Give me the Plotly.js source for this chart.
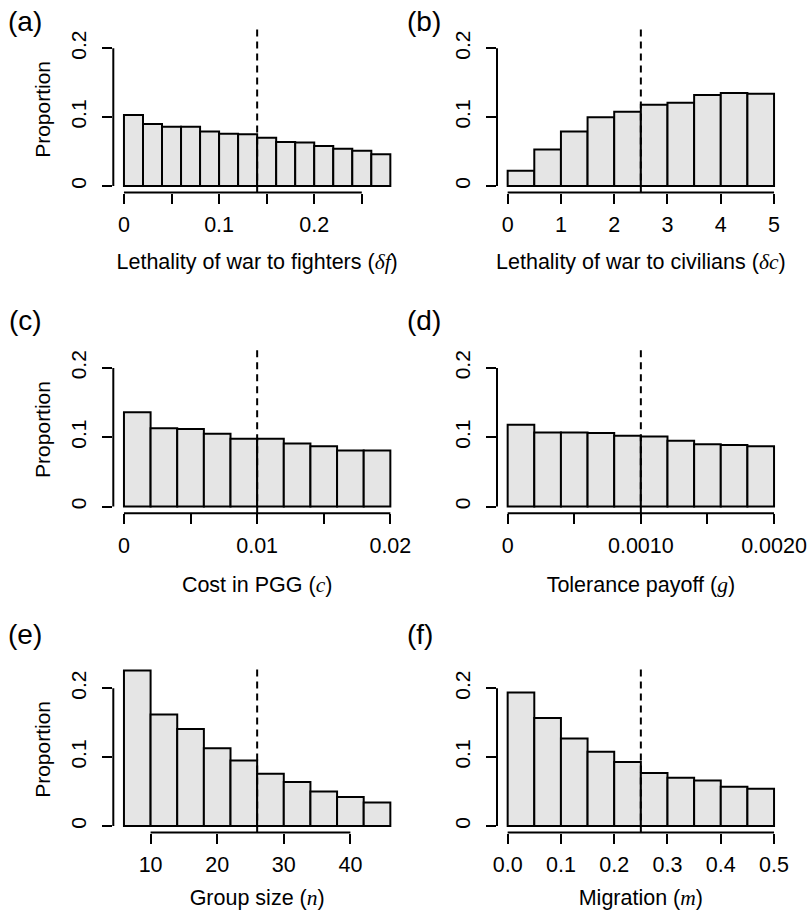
<!DOCTYPE html>
<html><head><meta charset="utf-8">
<script src="https://cdn.plot.ly/plotly-3.0.1.min.js"></script>
<style>body{margin:0;padding:0;background:#fff}#chart{width:812px;height:919px}</style>
</head><body><div id="chart"></div>
<script>
// ---- data ----
const panelLabels = ["(a)", "(b)", "(c)", "(d)", "(e)", "(f)"];
const xTitles = [
  "Lethality of war to fighters (<span style=\"font-family:'Liberation Serif'\"><i>δf</i></span>)",
  "Lethality of war to civilians (<span style=\"font-family:'Liberation Serif'\"><i>δc</i></span>)",
  "Cost in PGG (<span style=\"font-family:'Liberation Serif'\"><i>c</i></span>)",
  "Tolerance payoff (<span style=\"font-family:'Liberation Serif'\"><i>g</i></span>)",
  "Group size (<span style=\"font-family:'Liberation Serif'\"><i>n</i></span>)",
  "Migration (<span style=\"font-family:'Liberation Serif'\"><i>m</i></span>)"
];
const binStartA = 0,    binWidthA = 0.02;
const binStartB = 0,    binWidthB = 0.5;
const binStartC = 0,    binWidthC = 0.002;
const binStartD = 0,    binWidthD = 0.0002;
const binStartE = 6,    binWidthE = 4;
const binStartF = 0,    binWidthF = 0.05;

const propA = [0.103, 0.090, 0.086, 0.086, 0.079, 0.076, 0.075, 0.070, 0.064, 0.063, 0.058, 0.054, 0.051, 0.046];
const propB = [0.022, 0.053, 0.079, 0.100, 0.108, 0.118, 0.121, 0.132, 0.135, 0.134];
const propC = [0.136, 0.113, 0.112, 0.105, 0.098, 0.098, 0.091, 0.087, 0.081, 0.081];
const propD = [0.118, 0.107, 0.107, 0.106, 0.102, 0.101, 0.095, 0.090, 0.089, 0.087];
const propE = [0.226, 0.162, 0.141, 0.113, 0.095, 0.076, 0.064, 0.050, 0.042, 0.034];
const propF = [0.194, 0.157, 0.127, 0.108, 0.093, 0.077, 0.070, 0.066, 0.057, 0.054];

const defaultValues = [0.14, 2.5, 0.01, 0.001, 26, 0.25];

const xTickValsA = [0, 0.05, 0.1, 0.15, 0.2, 0.25];   const xTickTextA = ["0", "", "0.1", "", "0.2", ""];
const xTickValsB = [0, 1, 2, 3, 4, 5];                 const xTickTextB = ["0", "1", "2", "3", "4", "5"];
const xTickValsC = [0, 0.005, 0.01, 0.015, 0.02];      const xTickTextC = ["0", "", "0.01", "", "0.02"];
const xTickValsD = [0, 0.0005, 0.001, 0.0015, 0.002];  const xTickTextD = ["0", "", "0.0010", "", "0.0020"];
const xTickValsE = [10, 20, 30, 40];                   const xTickTextE = ["10", "20", "30", "40"];
const xTickValsF = [0, 0.1, 0.2, 0.3, 0.4, 0.5];       const xTickTextF = ["0.0", "0.1", "0.2", "0.3", "0.4", "0.5"];
const yTickVals = [0, 0.1, 0.2];
const yTickText = ["0", "0.1", "0.2"];

// ---- layout geometry ----
const panels = [
  {start: binStartA, w: binWidthA, y: propA, tv: xTickValsA, tt: xTickTextA},
  {start: binStartB, w: binWidthB, y: propB, tv: xTickValsB, tt: xTickTextB},
  {start: binStartC, w: binWidthC, y: propC, tv: xTickValsC, tt: xTickTextC},
  {start: binStartD, w: binWidthD, y: propD, tv: xTickValsD, tt: xTickTextD},
  {start: binStartE, w: binWidthE, y: propE, tv: xTickValsE, tt: xTickTextE},
  {start: binStartF, w: binWidthF, y: propF, tv: xTickValsF, tt: xTickTextF}
];
const W = 812, H = 919;
const colX = [[113.3, 401], [497.0, 784.7]];
const rowY = [[26.3, 192.5], [345.7, 513.2], [666.3, 832.5]];
const rowTitleStandoff = [17, 19, 13];
const labelPos = [[25, 21], [424, 21], [25, 321], [424, 321], [25, 634], [420, 634]];

const FONT = "Liberation Sans, Arial, Helvetica, sans-serif";
const HSIZE = 21.5, VSIZE = 21;
const traces = [];
const layout = {
  width: W, height: H,
  margin: {l: 0, r: 0, t: 0, b: 0},
  paper_bgcolor: "#fff", plot_bgcolor: "rgba(0,0,0,0)",
  showlegend: false,
  font: {family: FONT, size: HSIZE, color: "#000"},
  shapes: [], annotations: [], bargap: 0
};

panels.forEach((p, i) => {
  const k = i + 1;
  const xa = "xaxis" + (k === 1 ? "" : k), ya = "yaxis" + (k === 1 ? "" : k);
  const xr = "x" + (k === 1 ? "" : k), yr = "y" + (k === 1 ? "" : k);
  const col = i % 2, row = Math.floor(i / 2);
  const n = p.y.length;
  const edges = p.y.map((_, j) => p.start + j * p.w);
  const lo = p.start, hi = p.start + n * p.w, span = hi - lo;
  traces.push({
    type: "bar", x: edges, y: p.y, width: p.w, offset: 0,
    xaxis: xr, yaxis: yr,
    marker: {color: "#e5e5e5", line: {color: "#000", width: 2}},
    hoverinfo: "skip"
  });
  layout[xa] = {
    domain: [colX[col][0] / W, colX[col][1] / W],
    range: [lo - 0.04 * span, hi + 0.04 * span],
    anchor: yr, showgrid: false, zeroline: false, showline: false,
    ticks: "outside", ticklen: 10, tickwidth: 2, tickcolor: "#000",
    tickvals: p.tv, ticktext: p.tt, ticklabelstandoff: 3,
    tickfont: {family: FONT, size: HSIZE, color: "#000"},
    title: {text: xTitles[i], standoff: rowTitleStandoff[row], font: {family: FONT, size: HSIZE, color: "#000"}},
    automargin: false, fixedrange: true
  };
  layout[ya] = {
    domain: [1 - rowY[row][1] / H, 1 - rowY[row][0] / H],
    range: [-0.0095, 0.232],
    anchor: xr, showgrid: false, zeroline: false, showline: false,
    ticks: "outside", ticklen: 10, tickwidth: 2, tickcolor: "#000",
    tickvals: yTickVals, ticktext: yTickText, tickangle: -90, ticklabelstandoff: 8,
    tickfont: {family: FONT, size: VSIZE, color: "#000"},
    title: col === 0 ? {text: "Proportion", standoff: 10, font: {family: FONT, size: VSIZE, color: "#000"}} : {text: ""},
    automargin: false, fixedrange: true
  };
  // axis lines spanning first to last tick (R style)
  layout.shapes.push({type: "line", xref: xr, yref: yr + " domain",
    x0: p.tv[0], x1: p.tv[p.tv.length - 1], y0: 0, y1: 0,
    line: {color: "#000", width: 2}});
  layout.shapes.push({type: "line", xref: xr + " domain", yref: yr,
    x0: 0, x1: 0, y0: yTickVals[0], y1: yTickVals[yTickVals.length - 1],
    line: {color: "#000", width: 2}});
  // dashed reference line
  layout.shapes.push({type: "line", xref: xr, yref: yr + " domain",
    x0: defaultValues[i], x1: defaultValues[i], y0: 0, y1: 1,
    line: {color: "#000", width: 2, dash: "7px,5px"}});
  layout.annotations.push({text: panelLabels[i], xref: "paper", yref: "paper",
    x: labelPos[i][0] / W, y: 1 - labelPos[i][1] / H, xanchor: "center", yanchor: "middle",
    showarrow: false, font: {family: FONT, size: 28, color: "#000"}});
});

Plotly.newPlot("chart", traces, layout, {staticPlot: true, displayModeBar: false});
</script></body></html>
